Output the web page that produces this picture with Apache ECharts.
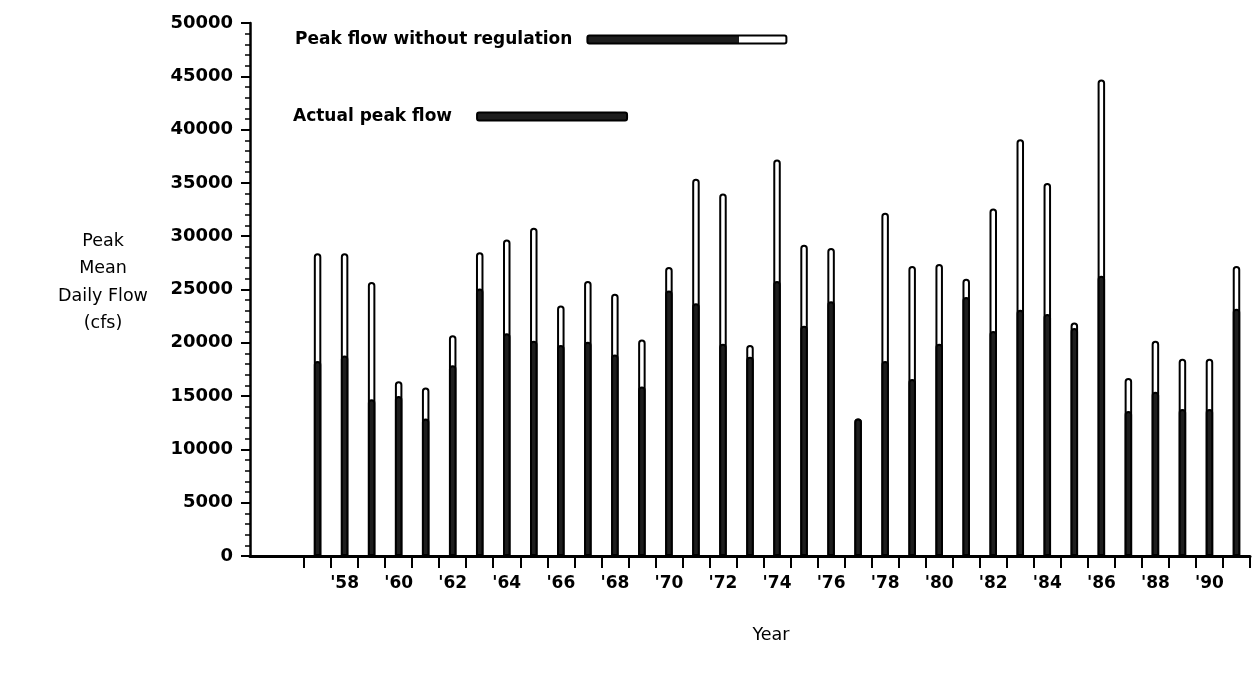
<!DOCTYPE html>
<html>
<head>
<meta charset="utf-8">
<script src="https://cdn.jsdelivr.net/npm/echarts@6/dist/echarts.min.js"></script>
<style>
html,body{margin:0;padding:0;background:#fff;}
#chart{width:1252px;height:674px;}
</style>
</head>
<body>
<div id="chart"></div>
<script>
// Years on the category axis (1955 and 1956 carry no data)
var years = ['1955','1956','1957','1958','1959','1960','1961','1962','1963','1964','1965','1966','1967','1968','1969','1970','1971','1972','1973','1974','1975','1976','1977','1978','1979','1980','1981','1982','1983','1984','1985','1986','1987','1988','1989','1990','1991'];
// Peak mean daily flow without regulation (cfs)
var peakWithoutRegulation = [null,null,28400,28400,25700,16400,15800,20700,28500,29700,30800,23500,25800,24600,20300,27100,35400,34000,19800,37200,29200,28900,12900,32200,27200,27400,26000,32600,39100,35000,21900,44700,16700,20200,18500,18500,27200];
// Actual peak mean daily flow (cfs)
var actualPeak = [null,null,18300,18800,14700,15000,12900,17900,25100,20900,20200,19800,20100,18900,15900,24900,23700,19900,18700,25800,21600,23900,12900,18300,16600,19900,24300,21100,23100,22700,21400,26300,13600,15400,13800,13800,23200];
var yTicks = {min:0, max:50000, interval:5000};

var FONT = 'DejaVu Sans';
var chart = echarts.init(document.getElementById('chart'), null, {renderer:'canvas'});
var darkFill = '#1e1e1e';
var option = {
  backgroundColor:'#fff',
  animation:false,
  grid:{left:250, right:2, top:23, bottom:118, containLabel:false},
  legend:[
    {
      data:['Peak flow without regulation'],
      left:295, top:31, align:'right', padding:0,
      itemWidth:199, itemHeight:8, itemGap:0,
      icon:'roundRect',
      itemStyle:{
        color:{type:'linear',x:0,y:0,x2:1,y2:0,colorStops:[
          {offset:0,color:darkFill},{offset:0.76,color:darkFill},
          {offset:0.76,color:'#fff'},{offset:1,color:'#fff'}]},
        borderColor:'#000', borderWidth:2
      },
      textStyle:{fontFamily:FONT, fontWeight:'bold', fontSize:17, color:'#000', padding:[0,10,0,0]}
    },
    {
      data:['Actual peak flow'],
      left:293, top:108, align:'right', padding:0,
      itemWidth:150, itemHeight:8, itemGap:0,
      icon:'roundRect',
      itemStyle:{color:darkFill, borderColor:'#000', borderWidth:2},
      textStyle:{fontFamily:FONT, fontWeight:'bold', fontSize:17, color:'#000', padding:[0,20,0,0]}
    }
  ],
  xAxis:{
    type:'category',
    data:years,
    boundaryGap:true,
    name:'Year',
    nameLocation:'middle',
    nameGap:70,
    nameTextStyle:{fontFamily:FONT, fontSize:17.5, color:'#000', padding:[0,0,0,42]},
    axisLine:{lineStyle:{color:'#000', width:3}},
    axisTick:{
      show:true, inside:false, length:12, alignWithLabel:false,
      interval:function(idx){ return idx>=2; },
      lineStyle:{color:'#000', width:2}
    },
    axisLabel:{
      margin:19,
      interval:function(idx, val){ var y = +val; return y>=1958 && (y-1958)%2===0; },
      formatter:function(v){ return "'" + String(v).slice(2); },
      fontFamily:FONT, fontWeight:'bold', fontSize:17, color:'#000'
    },
    splitLine:{show:false}
  },
  yAxis:{
    type:'value',
    min:yTicks.min, max:yTicks.max, interval:yTicks.interval,
    axisLine:{show:true, lineStyle:{color:'#000', width:2.5}},
    axisTick:{show:true, inside:false, length:9, lineStyle:{color:'#000', width:2}},
    minorTick:{show:true, splitNumber:5, length:5, lineStyle:{color:'#000', width:1.5}},
    axisLabel:{
      margin:17, fontFamily:FONT, fontWeight:'bold', fontSize:18, color:'#000',
      formatter:function(v){ return String(v); }
    },
    splitLine:{show:false}
  },
  series:[
    {
      name:'Peak flow without regulation',
      type:'bar',
      data:peakWithoutRegulation,
      barWidth:7.5,
      barGap:'-100%',
      itemStyle:{color:'#fff', borderColor:'#000', borderWidth:2, borderRadius:[4,4,0,0]}
    },
    {
      name:'Actual peak flow',
      type:'bar',
      data:actualPeak,
      barWidth:7.5,
      barGap:'-100%',
      itemStyle:{color:darkFill, borderColor:'#000', borderWidth:2, borderRadius:[3,3,0,0]}
    }
  ],
  graphic:[{
    type:'text',
    x:103, y:228,
    style:{
      text:'Peak\nMean\nDaily Flow\n(cfs)',
      align:'center', verticalAlign:'top',
      lineHeight:27.3,
      fontFamily:FONT, fontSize:17.5, fill:'#000'
    }
  }]
};
chart.setOption(option);
</script>
</body>
</html>
